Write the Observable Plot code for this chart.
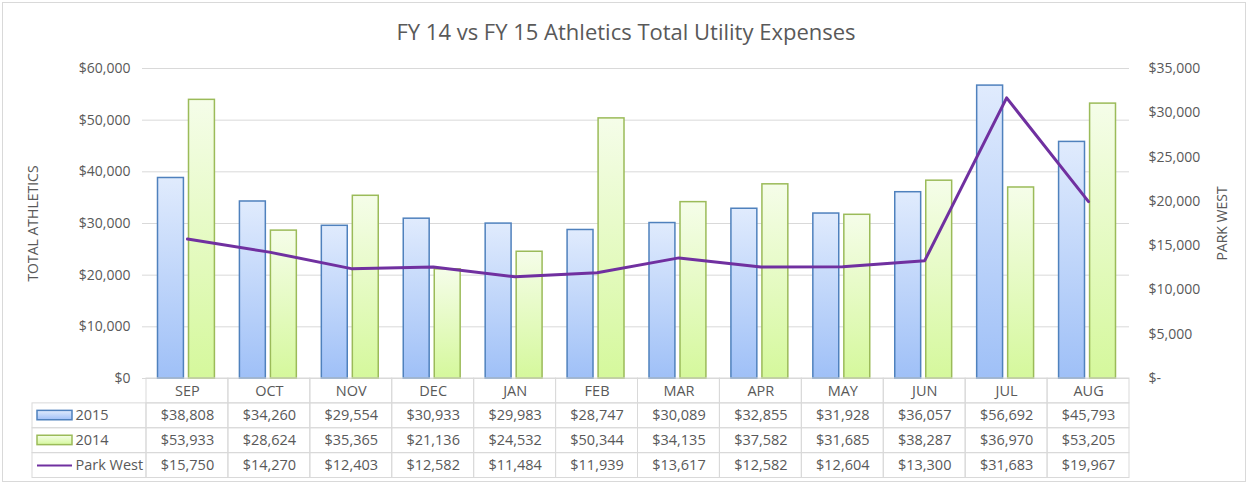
<!DOCTYPE html>
<html><head><meta charset="utf-8">
<script src="https://cdn.jsdelivr.net/npm/d3@7"></script>
<script src="https://cdn.jsdelivr.net/npm/@observablehq/plot@0.6"></script>
<style>
body{margin:0;background:#fff;}
#chart{position:relative;width:1249px;height:485px;overflow:hidden;background:#fff;}
#frame{position:absolute;left:2px;top:2px;width:1244px;height:480px;border:1px solid #d9d9d9;box-sizing:border-box;pointer-events:none;}
#chart svg{display:block;}
</style></head><body>
<div id="chart"><div id="frame"></div></div>
<script>
// ---- data ----
const months = ["SEP","OCT","NOV","DEC","JAN","FEB","MAR","APR","MAY","JUN","JUL","AUG"];
const fy2015 = [38808,34260,29554,30933,29983,28747,30089,32855,31928,36057,56692,45793];
const fy2014 = [53933,28624,35365,21136,24532,50344,34135,37582,31685,38287,36970,53205];
const parkWest = [15750,14270,12403,12582,11484,11939,13617,12582,12604,13300,31683,19967];
const seriesNames = ["2015","2014","Park West"];
const leftTicks = [0,10000,20000,30000,40000,50000,60000];
const rightTicks = [0,5000,10000,15000,20000,25000,30000,35000];
const titleText = "FY 14 vs FY 15 Athletics Total Utility Expenses";
const leftLabel = "TOTAL ATHLETICS";
const rightLabel = "PARK WEST";

// ---- helpers ----
const leftMax = 60000, rightMax = 35000;
const toLeft = v => v * leftMax / rightMax;
const fromLeft = v => Math.round(v * rightMax / leftMax);
const money = v => "$" + d3.format(",")(v);
const data = months.map((m, i) => ({month: m, v2015: fy2015[i], v2014: fy2014[i], park: parkWest[i]}));

const W = 1249, ML = 146, MR = 120;
const font = "'Open Sans', sans-serif";
const gray = "#595959";
const grid = "#d9d9d9";

const main = Plot.plot({
  width: W, height: 378, marginLeft: ML, marginRight: MR, marginTop: 68, marginBottom: 0,
  style: {fontFamily: font, fontSize: "14px", color: gray, background: "transparent", overflow: "visible"},
  x: {type: "band", domain: months, paddingInner: 0, paddingOuter: 0, round: false, axis: null},
  y: {domain: [0, 60000], axis: null},
  marks: [
    Plot.ruleY(leftTicks, {stroke: grid, strokeWidth: 1, insetLeft: -4}),
    Plot.barY(data, {x: "month", y: "v2015", fill: "url(#gBlue)", stroke: "#4f81bd", strokeWidth: 1.5, insetLeft: 11.5, insetRight: 44.5}),
    Plot.barY(data, {x: "month", y: "v2014", fill: "url(#gGreen)", stroke: "#9bbb59", strokeWidth: 1.5, insetLeft: 42.5, insetRight: 13.5}),
    Plot.line(data, {x: "month", y: d => toLeft(d.park), stroke: "#7030a0", strokeWidth: 3, strokeLinejoin: "round"}),
    Plot.axisY(leftTicks, {anchor: "left", tickSize: 0, tickPadding: 16, tickFormat: money, label: null, fill: gray}),
    Plot.axisY(rightTicks.map(toLeft), {anchor: "right", tickSize: 0, tickPadding: 19, label: null, fill: gray,
      tickFormat: v => fromLeft(v) === 0 ? "$-" : money(fromLeft(v))}),
    Plot.text([titleText], {frameAnchor: "top", lineAnchor: "middle", dy: -36, dx: -12, fontSize: 22, fill: gray}),
    Plot.text([leftLabel], {frameAnchor: "left", textAnchor: "middle", rotate: -90, dx: -113, fontSize: 14, fill: gray}),
    Plot.text([rightLabel], {frameAnchor: "right", textAnchor: "middle", rotate: -90, dx: 93, fontSize: 14, fill: gray})
  ]
});

// ---- data table below the chart ----
const legX = -(ML - 32) / ((W - ML - MR) / months.length);
const cells = [];
for (let r = 0; r < 4; r++) for (let c = 0; c < months.length; c++) cells.push({r, c});
const tableText = [];
months.forEach((m, c) => tableText.push({r: 0, c, t: m}));
fy2015.forEach((v, c) => tableText.push({r: 1, c, t: money(v)}));
fy2014.forEach((v, c) => tableText.push({r: 2, c, t: money(v)}));
parkWest.forEach((v, c) => tableText.push({r: 3, c, t: money(v)}));
const legRows = seriesNames.map((s, i) => ({r: i + 1, name: s}));

const table = Plot.plot({
  width: W, height: 107, marginLeft: ML, marginRight: MR, marginTop: 0, marginBottom: 8,
  style: {fontFamily: font, fontSize: "14.5px", color: gray, background: "transparent", overflow: "visible"},
  x: {domain: [0, months.length], axis: null},
  y: {domain: [0, 4], range: [0, 99.5], axis: null},
  marks: [
    Plot.rect(cells, {x1: "c", x2: d => d.c + 1, y1: "r", y2: d => d.r + 1, fill: "none", stroke: grid}),
    Plot.rect(legRows, {x1: legX, x2: 0, y1: "r", y2: d => d.r + 1, fill: "none", stroke: grid}),
    Plot.text(tableText, {x: d => d.c + 0.5, y: d => d.r + 0.5, text: "t", fill: gray}),
    Plot.rect(legRows.slice(0, 1), {x1: legX, x2: 0, y1: "r", y2: d => d.r + 1, insetLeft: 5, insetRight: 74, insetTop: 7.5, insetBottom: 8, fill: "url(#gBlue)", stroke: "#4f81bd", strokeWidth: 1.5}),
    Plot.rect(legRows.slice(1, 2), {x1: legX, x2: 0, y1: "r", y2: d => d.r + 1, insetLeft: 5, insetRight: 74, insetTop: 7.5, insetBottom: 8, fill: "url(#gGreen)", stroke: "#9bbb59", strokeWidth: 1.5}),
    Plot.ruleY(legRows.slice(2, 3), {x1: legX, x2: 0, y: d => d.r + 0.5, insetLeft: 5, insetRight: 74, stroke: "#7030a0", strokeWidth: 2}),
    Plot.text(legRows, {x: legX, y: d => d.r + 0.5, text: "name", textAnchor: "start", dx: 43, fill: gray})
  ]
});

const holder = document.getElementById("chart");
holder.appendChild(main);
holder.appendChild(table);

const defs = d3.select(main).insert("defs", ":first-child");
function grad(id, top, bottom) {
  const g = defs.append("linearGradient").attr("id", id).attr("x1", 0).attr("y1", 0).attr("x2", 0).attr("y2", 1);
  g.append("stop").attr("offset", "0%").attr("stop-color", top);
  g.append("stop").attr("offset", "100%").attr("stop-color", bottom);
}
grad("gBlue", "#e0ebfd", "#9fc0f7");
grad("gGreen", "#f5fde9", "#d5f89c");
</script>
</body></html>
